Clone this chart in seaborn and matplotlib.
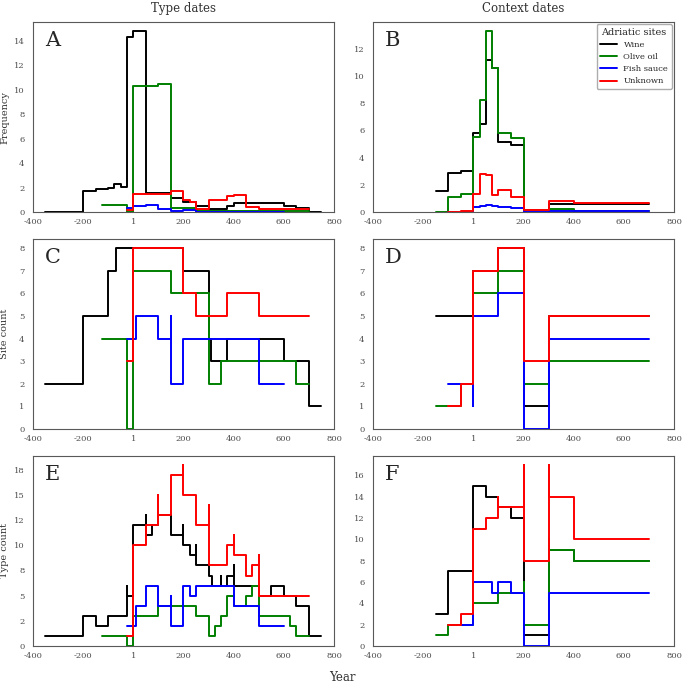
import numpy as np
import matplotlib
matplotlib.use("Agg")
import matplotlib.pyplot as plt
from matplotlib.ticker import StrMethodFormatter
import seaborn as sns

sns.set_style("white", {"axes.edgecolor": "0.35"})
plt.rcParams["font.family"] = ["DejaVu Serif"]

#Categorias y colores
cats = ["Wine", "Olive oil", "Fish sauce", "Unknown"]
colours = ["black", "green", "blue", "red"]

#A: frecuencia, type dates
A_wine_yr = [-350, -200, -150, -100, -75, -50, -25, 0, 50, 150, 200, 250, 300, 375, 400, 600, 650, 700, 750]
A_wine_val = [0.05, 1.7, 1.9, 2.0, 2.3, 2.1, 14.3, 14.8, 1.6, 1.15, 0.85, 0.5, 0.3, 0.5, 0.75, 0.55, 0.35, 0.05, 0.05]
A_olive_yr = [-125, -25, 0, 100, 150, 250, 700]
A_olive_val = [0.6, 0.0, 10.3, 10.45, 0.35, 0.12, 0.12]
A_fish_yr = [-25, 0, 50, 100, 150, 200, 250, 600]
A_fish_val = [0.38, 0.5, 0.6, 0.3, 0.08, 0.15, 0.05, 0.05]
A_unk_yr = [-25, 0, 150, 200, 225, 250, 300, 375, 400, 450, 500, 700]
A_unk_val = [0.15, 1.47, 1.72, 1.0, 0.8, 0.3, 0.98, 1.3, 1.42, 0.4, 0.28, 0.28]

#B: frecuencia, context dates
B_wine_yr = [-150, -100, -50, 0, 25, 50, 75, 100, 150, 200, 300, 700]
B_wine_val = [1.55, 2.85, 3.04, 5.78, 6.5, 11.2, 10.55, 5.17, 4.9, 0.15, 0.58, 0.58]
B_olive_yr = [-150, -100, -50, 0, 25, 50, 75, 100, 150, 200, 300, 400, 700]
B_olive_val = [0.02, 1.13, 1.37, 5.5, 8.25, 13.3, 10.6, 5.8, 5.47, 0.2, 0.27, 0.12, 0.12]
B_fish_yr = [-100, 0, 25, 50, 75, 100, 150, 200, 300, 400, 700]
B_fish_val = [0.03, 0.37, 0.45, 0.52, 0.45, 0.37, 0.3, 0.05, 0.1, 0.08, 0.08]
B_unk_yr = [-100, -50, 0, 25, 50, 75, 100, 150, 200, 300, 400, 700]
B_unk_val = [0.03, 0.08, 1.33, 2.8, 2.72, 1.28, 1.6, 1.15, 0.2, 0.85, 0.66, 0.66]

#C: site count, type dates
C_wine_yr = [-350, -200, -100, -70, 200, 300, 310, 375, 600, 700, 750]
C_wine_val = [2, 5, 7, 8, 7, 4, 3, 4, 3, 1, 1]
C_olive_yr = [-125, -25, 0, 150, 300, 350, 650, 700]
C_olive_val = [4, 0, 7, 6, 2, 3, 2, 2]
C_fish_yr = [-25, 10, 100, 150, 150, 200, 500, 600]
C_fish_val = [4, 5, 4, 5, 2, 4, 2, 2]
C_unk_yr = [-25, 0, 200, 250, 375, 500, 700]
C_unk_val = [3, 8, 6, 5, 6, 5, 5]

#D: site count, context dates
D_wine_yr = [-150, 0, 100, 200, 300, 700]
D_wine_val = [5, 7, 8, 1, 5, 5]
D_olive_yr = [-150, -50, 0, 100, 200, 300, 700]
D_olive_val = [1, 2, 6, 7, 2, 3, 3]
D_fish_yr = [-100, 0, 0, 100, 200, 300, 700]
D_fish_val = [2, 1, 5, 6, 0, 4, 4]
D_unk_yr = [-100, -50, 0, 100, 200, 300, 700]
D_unk_val = [1, 2, 7, 8, 3, 5, 5]

#E: type count, type dates
E_wine_yr = [-350, -200, -150, -100, -25, -25, 0, 50, 50, 75, 100, 150, 200, 200, 225, 250, 250, 300, 315, 350,
             350, 375, 400, 400, 500, 550, 600, 650, 700, 750]
E_wine_val = [1, 3, 2, 3, 6, 5, 12, 13, 11, 12, 13, 11, 12, 10, 9, 10, 8, 7, 6, 7,
              6, 7, 8, 6, 5, 6, 5, 4, 1, 1]
E_olive_yr = [-125, -25, 0, 100, 250, 300, 325, 350, 375, 400, 450, 475, 500, 625, 650, 700]
E_olive_val = [1, 0, 3, 4, 3, 1, 2, 3, 5, 4, 5, 6, 3, 2, 1, 1]
E_fish_yr = [-25, 10, 50, 100, 150, 150, 200, 225, 250, 400, 500, 600]
E_fish_val = [2, 4, 6, 4, 5, 2, 6, 5, 6, 4, 2, 2]
E_unk_yr = [-25, 0, 50, 100, 100, 150, 200, 200, 250, 300, 300, 375, 400, 400, 450, 475, 500, 500, 700]
E_unk_val = [1, 10, 12, 15, 13, 17, 18, 15, 12, 14, 8, 10, 11, 9, 7, 8, 9, 5, 5]

#F: type count, context dates
F_wine_yr = [-150, -100, 0, 50, 100, 150, 200, 300, 400, 700]
F_wine_val = [3, 7, 15, 14, 13, 12, 1, 9, 8, 8]
F_olive_yr = [-150, -100, 0, 100, 200, 200, 300, 300, 400, 700]
F_olive_val = [1, 2, 4, 5, 6, 2, 10, 9, 8, 8]
F_fish_yr = [-50, 0, 75, 100, 150, 200, 300, 700]
F_fish_val = [2, 6, 5, 6, 5, 0, 5, 5]
F_unk_yr = [-100, -50, 0, 50, 100, 100, 150, 200, 200, 300, 300, 400, 700]
F_unk_val = [2, 3, 11, 12, 14, 13, 13, 17, 8, 17, 14, 10, 10]

x_ticks = [-400, -200, 0, 200, 400, 600, 800]
x_ticklabels = ["-400", "-200", "1", "200", "400", "600", "800"]

panels = [
    ("A", [(A_wine_yr, A_wine_val), (A_olive_yr, A_olive_val), (A_fish_yr, A_fish_val), (A_unk_yr, A_unk_val)], np.arange(0, 15, 2)),
    ("B", [(B_wine_yr, B_wine_val), (B_olive_yr, B_olive_val), (B_fish_yr, B_fish_val), (B_unk_yr, B_unk_val)], np.arange(0, 13, 2)),
    ("C", [(C_wine_yr, C_wine_val), (C_olive_yr, C_olive_val), (C_fish_yr, C_fish_val), (C_unk_yr, C_unk_val)], np.arange(0, 9, 1)),
    ("D", [(D_wine_yr, D_wine_val), (D_olive_yr, D_olive_val), (D_fish_yr, D_fish_val), (D_unk_yr, D_unk_val)], np.arange(0, 9, 1)),
    ("E", [(E_wine_yr, E_wine_val), (E_olive_yr, E_olive_val), (E_fish_yr, E_fish_val), (E_unk_yr, E_unk_val)], np.arange(0, 18, 2.5)),
    ("F", [(F_wine_yr, F_wine_val), (F_olive_yr, F_olive_val), (F_fish_yr, F_fish_val), (F_unk_yr, F_unk_val)], np.arange(0, 17, 2)),
]

fig = plt.figure(figsize=(6.85, 6.86), dpi=100)
axes = fig.subplots(3, 2).flatten()
plt.subplots_adjust(left=0.048, right=0.984, top=0.968, bottom=0.0583, wspace=0.1296, hspace=0.1395)

for ax, (letter, series, yt) in zip(axes, panels):
    for (yr, val), cat, col in zip(series, cats, colours):
        sns.lineplot(x=yr, y=val, ax=ax, color=col, lw=1.4, drawstyle="steps-post",
                     estimator=None, sort=False, legend=False, label=cat)
    ax.set_xlim(-400, 800)
    ax.set_ylim(bottom=0)
    ax.set_xticks(x_ticks)
    ax.set_xticklabels(x_ticklabels)
    ax.set_yticks(yt)
    ax.yaxis.set_major_formatter(StrMethodFormatter("{x:.0f}"))
    ax.tick_params(length=0, labelsize=6, labelcolor="0.3")
    ax.tick_params(axis="y", pad=6)
    ax.tick_params(axis="x", pad=4)
    ax.set_xlabel("")
    ax.set_ylabel("")
    ax.text(0.04, 0.95, letter, transform=ax.transAxes, va="top", ha="left",
            fontsize=15, color="0.15")

axes[0].set_title("Type dates", fontsize=8.5, color="0.2", pad=7)
axes[1].set_title("Context dates", fontsize=8.5, color="0.2", pad=7)
for i, lab in zip([0, 2, 4], ["Frequency", "Site count", "Type count"]):
    axes[i].set_ylabel(lab, fontsize=7, color="0.2")
    axes[i].yaxis.set_label_coords(-0.078, 0.5)

leg = axes[1].legend(title="Adriatic sites", loc="upper right", fontsize=6, title_fontsize=7,
                     borderaxespad=0.3, handlelength=2.0, frameon=True)
leg.get_frame().set_edgecolor("0.6")

fig.text(0.5, 0.003, "Year", ha="center", va="bottom", fontsize=8.5, color="0.2")

fig.savefig("out.png", dpi=100)
